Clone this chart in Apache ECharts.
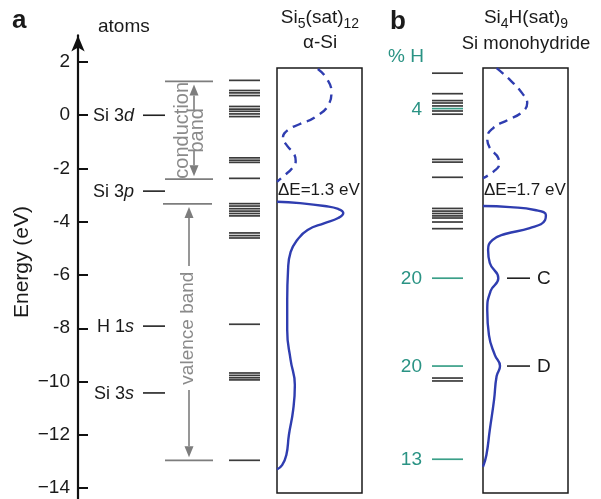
<!DOCTYPE html>
<html><head><meta charset="utf-8">
<script src="https://cdn.jsdelivr.net/npm/echarts@6/dist/echarts.min.js"></script>
<style>html,body{margin:0;padding:0;background:#fff}#c{width:601px;height:499px}</style>
</head><body><div id="c"></div>
<script>
// ---------------- DATA ----------------
const yTicks = [-14, -12, -10, -8, -6, -4, -2, 0, 2];
const atomNames = ['Si 3', 'Si 3', 'H 1', 'Si 3'];
const atomOrbitals = ['d', 'p', 's', 's'];
const atomEnergies = [0.0, -2.85, -7.92, -10.43];
const conductionBand = [1.27, -2.40];
const valenceBand = [-3.33, -12.96];
const levelsA = [1.31, 0.93, 0.84, 0.74, 0.33, 0.23, 0.15, 0.05, -0.05,
  -1.60, -1.69, -1.77, -2.37, -3.32, -3.41, -3.51, -3.60, -3.69, -3.78,
  -4.42, -4.52, -4.61, -7.85, -9.68, -9.77, -9.86, -9.94, -12.96];
const levelsB = [1.58, 0.81, 0.55, 0.46, 0.35, 0.16, 0.04, -1.66, -1.76, -2.33,
  -3.50, -3.60, -3.69, -3.78, -3.86, -4.01, -4.26, -9.87, -9.98];
const hLevelsB = [0.25, -6.12, -9.42, -12.92];
const hPercentB = ['4', '20', '20', '13'];
const dosA_cond = [[0.48,1.74],[0.58,1.40],[0.64,0.87],[0.61,0.42],[0.45,-0.07],[0.27,-0.33],
  [0.13,-0.55],[0.07,-0.85],[0.12,-1.15],[0.20,-1.45],[0.22,-1.72],[0.18,-1.98],[0.08,-2.28],[0.0,-2.5]];
const dosA_val = [[0.0,-3.25],[0.27,-3.30],[0.56,-3.41],[0.72,-3.52],[0.78,-3.67],[0.72,-3.86],
  [0.56,-4.05],[0.36,-4.31],[0.24,-4.68],[0.16,-5.14],[0.13,-5.81],[0.12,-6.94],[0.12,-8.07],
  [0.16,-9.19],[0.21,-10.13],[0.19,-11.07],[0.14,-12.01],[0.11,-12.76],[0.06,-13.14],[0.0,-13.3]];
const dosB_cond = [[0.16,1.77],[0.32,1.32],[0.46,0.83],[0.52,0.46],[0.46,0.12],[0.29,-0.18],
  [0.12,-0.48],[0.05,-0.86],[0.08,-1.23],[0.18,-1.61],[0.19,-1.83],[0.13,-2.10],[0.0,-2.36]];
const dosB_val = [[0.0,-3.41],[0.32,-3.45],[0.61,-3.56],[0.74,-3.75],[0.73,-3.94],[0.55,-4.24],
  [0.26,-4.46],[0.11,-4.69],[0.06,-5.06],[0.08,-5.55],[0.18,-6.12],[0.09,-6.60],[0.05,-7.32],
  [0.07,-8.26],[0.14,-9.01],[0.20,-9.42],[0.16,-9.80],[0.13,-10.69],[0.08,-11.82],[0.04,-12.76],[0.0,-13.2]];
const peakLabelsB = ['C', 'D'];
const peakEnergiesB = [-6.12, -9.42];
const gapA = '1.3';
const gapB = '1.7';

// ---------------- LAYOUT ----------------
const FONT = '"Liberation Sans", Arial, Helvetica, sans-serif';
const PX_PER_EV = 26.625, Y_ZERO = 115.25, H = 499;
const MAIN_MAX = 3.0, MAIN_MIN = -14.4;
const BOX_TOP = 68, BOX_BOTTOM_Y = 493;
const boxMax = (Y_ZERO - BOX_TOP) / PX_PER_EV, boxMin = (Y_ZERO - BOX_BOTTOM_Y) / PX_PER_EV;
function gridV(maxE, minE) { return { top: Y_ZERO - maxE * PX_PER_EV, bottom: H - (Y_ZERO - minE * PX_PER_EV) }; }
const TEAL = '#2a9384', TEAL_LINE = '#3a9f88', GRAY = '#3c3c3c', BAND = '#7d7d7d', BLUE = '#2f3db0';

const cols = [
  { left: 78, width: 40 },            // 0 energy axis
  { left: 143, width: 22 },           // 1 atoms
  { left: 163, width: 50 },           // 2 bands
  { left: 229, width: 31 },           // 3 levels a
  { left: 277, width: 85, box: true },// 4 DOS a
  { left: 432, width: 31 },           // 5 levels b
  { left: 483, width: 85, box: true } // 6 DOS b
];

const grid = cols.map(c => {
  const v = c.box ? gridV(boxMax, boxMin) : gridV(MAIN_MAX, MAIN_MIN);
  return { left: c.left, width: c.width, top: v.top, bottom: v.bottom, containLabel: false,
    outerBoundsMode: 'none', show: !!c.box, borderColor: '#1a1a1a', borderWidth: 1.5, backgroundColor: 'transparent' };
});
const xAxis = cols.map((c, i) => ({ type: 'value', gridIndex: i, min: 0, max: 1, show: false }));
const yAxis = cols.map((c, i) => {
  if (i === 0) {
    return { type: 'value', gridIndex: 0, min: MAIN_MIN, max: MAIN_MAX,
      axisLine: { show: true, onZero: false, lineStyle: { color: '#111', width: 2.2 }, symbol: ['none', 'arrow'], symbolSize: [10, 16] },
      axisTick: { show: true, inside: true, length: 10, lineStyle: { color: '#111', width: 2 }, customValues: yTicks },
      axisLabel: { customValues: yTicks, fontSize: 19, color: '#1a1a1a', margin: 8, fontFamily: FONT,
        formatter: v => v < 0 ? (Math.abs(v) >= 10 ? '\u2212' : '-') + Math.abs(v) : String(v) },
      splitLine: { show: false } };
  }
  return { type: 'value', gridIndex: i, min: c.box ? boxMin : MAIN_MIN, max: c.box ? boxMax : MAIN_MAX, show: false, splitLine: { show: false } };
});

function levelSeries(gi, energies, color, width, labels) {
  return {
    type: 'custom', xAxisIndex: gi, yAxisIndex: gi, encode: { x: 0, y: 1 }, clip: false,
    data: energies.map(e => [0, e]),
    renderItem: (params, api) => {
      const e = api.value(1);
      const p0 = api.coord([0, e]), p1 = api.coord([1, e]);
      const ch = [{ type: 'line', shape: { x1: p0[0], y1: p0[1], x2: p1[0], y2: p1[1] }, style: { stroke: color, lineWidth: width } }];
      if (labels) {
        ch.push({ type: 'text', x: p0[0] - 10, y: p0[1] + 1, style: { text: labels[params.dataIndex], fill: TEAL, fontSize: 19, fontFamily: FONT, align: 'right', verticalAlign: 'middle' } });
      }
      return { type: 'group', children: ch };
    }
  };
}

const atomSeries = {
  type: 'custom', xAxisIndex: 1, yAxisIndex: 1, encode: { x: 0, y: 1 }, clip: false,
  data: atomEnergies.map(e => [0, e]),
  renderItem: (params, api) => {
    const e = api.value(1), i = params.dataIndex;
    const p0 = api.coord([0, e]), p1 = api.coord([1, e]);
    return { type: 'group', children: [
      { type: 'line', shape: { x1: p0[0], y1: p0[1], x2: p1[0], y2: p1[1] }, style: { stroke: '#222', lineWidth: 1.6 } },
      { type: 'text', x: p0[0] - 9, y: p0[1] + 1, style: { text: '{n|' + atomNames[i] + '}{i|' + atomOrbitals[i] + '}', align: 'right', verticalAlign: 'middle',
        rich: { n: { fontSize: 18, fontFamily: FONT, fill: '#1a1a1a' }, i: { fontSize: 18, fontFamily: FONT, fontStyle: 'italic', fill: '#1a1a1a' } } } }
    ] };
  }
};

function arrow(x, yFrom, yTo, color) {
  const dir = yTo < yFrom ? -1 : 1;
  const head = 11, hw = 4.5;
  return [
    { type: 'line', shape: { x1: x, y1: yFrom, x2: x, y2: yTo - dir * head }, style: { stroke: color, lineWidth: 1.6 } },
    { type: 'polygon', shape: { points: [[x, yTo], [x - hw, yTo - dir * head], [x + hw, yTo - dir * head]] }, style: { fill: color } }
  ];
}

const bandSeries = {
  type: 'custom', xAxisIndex: 2, yAxisIndex: 2, encode: { x: 0, y: 1 }, clip: false,
  data: [[0, 0]],
  renderItem: (params, api) => {
    const L = api.coord([0, 0])[0], R = api.coord([1, 0])[0];
    const yc1 = api.coord([0, conductionBand[0]])[1], yc2 = api.coord([0, conductionBand[1]])[1];
    const yv1 = api.coord([0, valenceBand[0]])[1], yv2 = api.coord([0, valenceBand[1]])[1];
    const ch = [];
    [[yc1, L + 2, R], [yc2, L + 2, R], [yv1, L, R - 1], [yv2, L + 2, R]].forEach(a =>
      ch.push({ type: 'line', shape: { x1: a[1], y1: a[0], x2: a[2], y2: a[0] }, style: { stroke: BAND, lineWidth: 1.8 } }));
    // conduction band
    const cm = (yc1 + yc2) / 2, cx = L + 31;
    ch.push(...arrow(cx, cm - 20, yc1 + 3, BAND));
    ch.push(...arrow(cx, cm + 20, yc2 - 3, BAND));
    ch.push({ type: 'text', x: L + 19, y: cm, rotation: Math.PI / 2, style: { text: 'conduction', fill: '#8a8a8a', fontSize: 20, fontFamily: FONT, align: 'center', verticalAlign: 'middle' } });
    ch.push({ type: 'text', x: L + 34, y: cm, rotation: Math.PI / 2, style: { text: 'band', fill: '#8a8a8a', fontSize: 20, fontFamily: FONT, align: 'center', verticalAlign: 'middle' } });
    // valence band
    const vm = (yv1 + yv2) / 2 - 4, vx = L + 26;
    ch.push(...arrow(vx, vm - 62, yv1 + 3, BAND));
    ch.push(...arrow(vx, vm + 62, yv2 - 3, BAND));
    ch.push({ type: 'text', x: L + 25, y: vm, rotation: Math.PI / 2, style: { text: 'valence band', fill: '#8a8a8a', fontSize: 19, fontFamily: FONT, align: 'center', verticalAlign: 'middle' } });
    return { type: 'group', children: ch };
  }
};

function dosLine(gi, data, dashed) {
  return { type: 'line', xAxisIndex: gi, yAxisIndex: gi, data: data, smooth: 0.5, symbol: 'none', showSymbol: false,
    lineStyle: { color: BLUE, width: 2.4, type: dashed ? [9, 6] : 'solid' }, silent: true };
}

const peakSeries = {
  type: 'custom', xAxisIndex: 6, yAxisIndex: 6, encode: { x: 0, y: 1 }, clip: false,
  data: peakEnergiesB.map(e => [0, e]),
  renderItem: (params, api) => {
    const p = api.coord([0, api.value(1)]);
    return { type: 'group', children: [
      { type: 'line', shape: { x1: p[0] + 24, y1: p[1], x2: p[0] + 47, y2: p[1] }, style: { stroke: '#222', lineWidth: 1.6 } },
      { type: 'text', x: p[0] + 54, y: p[1] + 1, style: { text: peakLabelsB[params.dataIndex], fill: '#1a1a1a', fontSize: 19, fontFamily: FONT, align: 'left', verticalAlign: 'middle' } }
    ] };
  }
};

function title(x, y, parts) {
  return { type: 'text', x: x, y: y, style: { text: parts, align: 'center', verticalAlign: 'middle',
    rich: { n: { fontSize: 19, lineHeight: 22, fontFamily: FONT, fill: '#1a1a1a' }, s: { fontSize: 14, lineHeight: 22, padding: [12, 0, 0, 0], fontFamily: FONT, fill: '#1a1a1a' } } } };
}
function txt(x, y, text, opts) {
  return { type: 'text', x: x, y: y, style: Object.assign({ text: text, fontSize: 19, fontFamily: FONT, fill: '#1a1a1a', align: 'left', verticalAlign: 'middle' }, opts || {}) };
}

const chart = echarts.init(document.getElementById('c'));
chart.setOption({
  animation: false,
  backgroundColor: '#fff',
  textStyle: { fontFamily: FONT },
  grid: grid, xAxis: xAxis, yAxis: yAxis,
  series: [
    atomSeries, bandSeries,
    levelSeries(3, levelsA, GRAY, 1.7),
    dosLine(4, dosA_cond, true), dosLine(4, dosA_val, false),
    levelSeries(5, levelsB, GRAY, 1.7),
    levelSeries(5, hLevelsB, TEAL_LINE, 1.7, hPercentB),
    dosLine(6, dosB_cond, true), dosLine(6, dosB_val, false),
    peakSeries
  ],
  graphic: [
    txt(12, 21, 'a', { fontSize: 26, fontWeight: 'bold' }),
    txt(390, 22, 'b', { fontSize: 26, fontWeight: 'bold' }),
    txt(98, 27, 'atoms'),
    title(320, 18, '{n|Si}{s|5}{n|(sat)}{s|12}'),
    txt(320, 43, '\u03b1-Si', { align: 'center', fontSize: 19 }),
    title(526, 18, '{n|Si}{s|4}{n|H(sat)}{s|9}'),
    txt(526, 44, 'Si monohydride', { align: 'center', fontSize: 18.5 }),
    txt(388, 57, '% H', { fill: TEAL }),
    { type: 'text', x: 22, y: 262, rotation: Math.PI / 2, style: { text: 'Energy (eV)', fontSize: 21, fontFamily: FONT, fill: '#1a1a1a', align: 'center', verticalAlign: 'middle' } },
    txt(278, 190, '\u0394E=' + gapA + ' eV', { fontSize: 17 }),
    txt(484, 190, '\u0394E=' + gapB + ' eV', { fontSize: 17 })
  ]
});
</script>
</body></html>
